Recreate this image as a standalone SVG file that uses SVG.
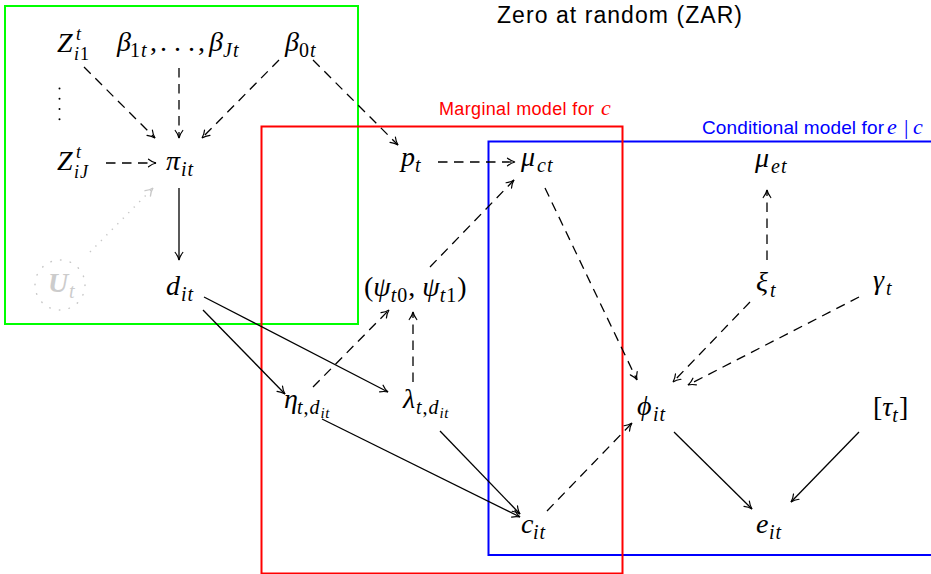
<svg xmlns="http://www.w3.org/2000/svg" width="931" height="574" viewBox="0 0 931 574">
<style>
.m{font-family:"Liberation Serif","DejaVu Serif",serif;font-style:italic;font-size:28px;fill:#000}
.s{font-size:20px;letter-spacing:1px}
.z{font-size:18px;letter-spacing:1px}
.ss{font-size:15px;letter-spacing:0.5px}
.lm{font-size:22px}
.u{font-style:normal}
.lab{font-family:"Liberation Sans",Arial,sans-serif}
.e{fill:none;stroke:#000;stroke-width:1.3}
.d{stroke-dasharray:9.5 6.5}
.sol{marker-end:url(#ah)}
.box{fill:none;stroke-width:2}
</style>
<defs>
<marker id="ah" markerUnits="userSpaceOnUse" viewBox="-9 -5 10 10" markerWidth="10" markerHeight="10" refX="0" refY="0" orient="auto">
<path d="M-7.5,-3.8 C-5,-1.8 -1.8,-0.4 0,0 C-1.8,0.4 -5,1.8 -7.5,3.8" fill="none" stroke="#000" stroke-width="1.2" stroke-linecap="round"/>
</marker>
<marker id="ahg" markerUnits="userSpaceOnUse" viewBox="-9 -5 10 10" markerWidth="10" markerHeight="10" refX="0" refY="0" orient="auto">
<path d="M-7.5,-3.8 C-5,-1.8 -1.8,-0.4 0,0 C-1.8,0.4 -5,1.8 -7.5,3.8" fill="none" stroke="#c8c8c8" stroke-width="1.4" stroke-linecap="round"/>
</marker>
</defs>
<rect width="931" height="574" fill="#fff"/>

<text class="lab" x="497" y="23" font-size="23" textLength="245" lengthAdjust="spacing">Zero at random (ZAR)</text>

<g id="boxes">
<rect class="box" x="5" y="6" width="353" height="318" stroke="#00ff00"/>
<rect class="box" x="488.5" y="141.5" width="460" height="413.5" stroke="#0000ff"/>
<rect class="box" x="261.5" y="126.5" width="361" height="447" stroke="#ff0000"/>
</g>
<g id="box-labels">
<text x="439" y="115" fill="#ff0000"><tspan class="lab" font-size="18" textLength="155" lengthAdjust="spacing">Marginal model for</tspan><tspan class="m lm" x="601" style="fill:#ff0000">c</tspan></text>
<text x="702" y="134" fill="#0000ff"><tspan class="lab" font-size="19" textLength="182" lengthAdjust="spacing">Conditional model for</tspan><tspan class="m lm" x="887" style="fill:#0000ff">e</tspan><tspan class="m lm u" x="904" style="fill:#0000ff">|</tspan><tspan class="m lm" x="913" style="fill:#0000ff">c</tspan></text>
</g>

<g id="connectors">
<line class="e d sol" x1="84" y1="67" x2="155" y2="138"/>
<line class="e d sol" x1="179" y1="68" x2="179" y2="138"/>
<line class="e d sol" x1="279" y1="60" x2="202" y2="138"/>
<line class="e d sol" x1="313" y1="60" x2="398" y2="145"/>
<line class="e d sol" x1="106" y1="163" x2="156" y2="163"/>
<line x1="90" y1="252" x2="153" y2="188" fill="none" stroke="#c8c8c8" stroke-width="1.5" stroke-dasharray="1.3 6.5" marker-end="url(#ahg)"/>
<line class="e sol" x1="179" y1="188" x2="179" y2="260"/>
<line class="e sol" x1="203" y1="310" x2="285" y2="394"/>
<line class="e sol" x1="204" y1="297" x2="388" y2="392"/>
<line class="e d sol" x1="313" y1="387" x2="389" y2="310"/>
<line class="e d sol" x1="413" y1="382" x2="413" y2="312"/>
<line class="e d sol" x1="430" y1="267" x2="514" y2="180"/>
<line class="e d sol" x1="438" y1="162" x2="515" y2="162"/>
<line class="e d sol" x1="545" y1="188" x2="637" y2="380"/>
<line class="e sol" x1="322" y1="419" x2="520" y2="517"/>
<line class="e sol" x1="440" y1="431" x2="520" y2="514"/>
<line class="e d sol" x1="547" y1="511" x2="632" y2="423"/>
<line class="e d sol" x1="767" y1="260" x2="767" y2="190"/>
<line class="e d sol" x1="750" y1="302" x2="673" y2="382"/>
<line class="e d sol" x1="859" y1="297" x2="688" y2="385"/>
<line class="e sol" x1="674" y1="432" x2="752" y2="509"/>
<line class="e sol" x1="859" y1="432" x2="791" y2="502"/>
</g>

<g id="Z_i1"><text class="m" x="57" y="52">Z<tspan class="z" x="76" y="40">t</tspan><tspan class="z" x="74" y="60">i</tspan><tspan class="z u">1</tspan></text></g>
<g id="beta_1_J"><text class="m" x="117" y="51">β<tspan class="s u" x="130" y="57">1</tspan><tspan class="s">t</tspan><tspan class="u" x="150" y="51">,</tspan><tspan class="u" x="160">.</tspan><tspan class="u" x="174">.</tspan><tspan class="u" x="188">.</tspan><tspan class="u" x="198">,</tspan><tspan x="209">β</tspan><tspan class="s" x="223" y="57">Jt</tspan></text></g>
<g id="beta_0"><text class="m" x="285" y="51">β<tspan class="s u" x="299" y="57">0</tspan><tspan class="s">t</tspan></text></g>
<g id="vdots" fill="#000">
<circle cx="59.5" cy="88.5" r="1"/><circle cx="59.5" cy="98.8" r="1"/><circle cx="59.5" cy="109" r="1"/><circle cx="59.5" cy="119.2" r="1"/>
</g>
<g id="Z_iJ"><text class="m" x="57" y="170">Z<tspan class="z" x="76" y="158">t</tspan><tspan class="z" x="74" y="178">iJ</tspan></text></g>
<g id="pi_it"><text class="m" x="166" y="170">π<tspan class="s" x="181" y="176">it</tspan></text></g>
<g id="U_t">
<circle cx="60" cy="285" r="25" fill="none" stroke="#c8c8c8" stroke-width="1.5" stroke-linecap="round" stroke-dasharray="0.5 9.3"/>
<text class="m" x="48" y="292" style="fill:#cccccc;font-weight:bold">U<tspan class="s" style="font-weight:normal" x="69" y="298">t</tspan></text>
</g>
<g id="d_it"><text class="m" x="166" y="295">d<tspan class="s" x="181" y="301">it</tspan></text></g>
<g id="p_t"><text class="m" x="401" y="166">p<tspan class="s" x="415" y="172">t</tspan></text></g>
<g id="mu_ct"><text class="m" x="521" y="166">μ<tspan class="s" x="537" y="172">ct</tspan></text></g>
<g id="mu_et"><text class="m" x="755" y="167">μ<tspan class="s" x="771" y="173">et</tspan></text></g>
<g id="psi"><text class="m" x="364" y="296"><tspan class="u">(</tspan>ψ<tspan class="s" dy="6">t</tspan><tspan class="s u">0</tspan><tspan class="u" dy="-6">, </tspan>ψ<tspan class="s" dy="6">t</tspan><tspan class="s u">1</tspan><tspan class="u" dy="-6">)</tspan></text></g>
<g id="xi_t"><text class="m" x="756" y="291">ξ<tspan class="s" x="770" y="297">t</tspan></text></g>
<g id="gamma_t"><text class="m" x="873" y="289">γ<tspan class="s" x="886" y="295">t</tspan></text></g>
<g id="eta"><text class="m" x="284" y="408">η<tspan class="s" x="297" y="414">t</tspan><tspan class="s u">,</tspan><tspan class="s">d</tspan><tspan class="ss" y="418">it</tspan></text></g>
<g id="lambda"><text class="m" x="403" y="408">λ<tspan class="s" x="416" y="414">t</tspan><tspan class="s u">,</tspan><tspan class="s">d</tspan><tspan class="ss" y="418">it</tspan></text></g>
<g id="phi_it"><text class="m" x="637" y="415">ϕ<tspan class="s" x="653" y="421">it</tspan></text></g>
<g id="tau_t"><text class="m" x="873" y="416"><tspan class="u">[</tspan>τ<tspan class="s" dy="6">t</tspan><tspan class="u" dy="-6">]</tspan></text></g>
<g id="c_it"><text class="m" x="521" y="533">c<tspan class="s" x="533" y="539">it</tspan></text></g>
<g id="e_it"><text class="m" x="756" y="533">e<tspan class="s" x="769" y="539">it</tspan></text></g>
</svg>
